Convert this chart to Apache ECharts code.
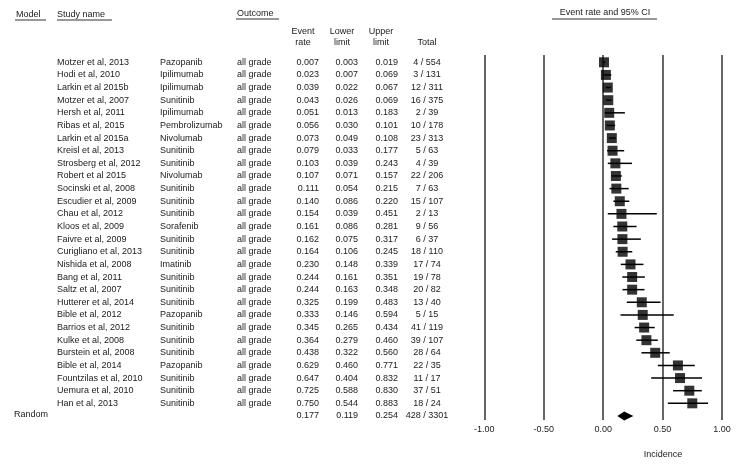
<!DOCTYPE html>
<html><head><meta charset="utf-8">
<script src="https://cdn.jsdelivr.net/npm/echarts@6/dist/echarts.min.js"></script>
<style>html,body{margin:0;padding:0;background:#fff}#c{width:745px;height:472px}</style>
</head><body><div id="c"></div>
<script>
const studies = ['Motzer et al, 2013','Hodi et al, 2010','Larkin et al 2015b','Motzer et al, 2007','Hersh et al, 2011','Ribas et al, 2015','Larkin et al 2015a','Kreisl et al, 2013','Strosberg et al, 2012','Robert et al 2015','Socinski et al, 2008','Escudier et al, 2009','Chau et al, 2012','Kloos et al, 2009','Faivre et al, 2009','Curigliano et al, 2013','Nishida et al, 2008','Bang et al, 2011','Saltz et al, 2007','Hutterer et al, 2014','Bible et al, 2012','Barrios et al, 2012','Kulke et al, 2008','Burstein et al, 2008','Bible et al, 2014','Fountzilas et al, 2010','Uemura et al, 2010','Han et al, 2013'];
const drugs = ['Pazopanib','Ipilimumab','Ipilimumab','Sunitinib','Ipilimumab','Pembrolizumab','Nivolumab','Sunitinib','Sunitinib','Nivolumab','Sunitinib','Sunitinib','Sunitinib','Sorafenib','Sunitinib','Sunitinib','Imatinib','Sunitinib','Sunitinib','Sunitinib','Pazopanib','Sunitinib','Sunitinib','Sunitinib','Pazopanib','Sunitinib','Sunitinib','Sunitinib'];
const outcomeLabel = 'all grade';
const eventRates = [0.007,0.023,0.039,0.043,0.051,0.056,0.073,0.079,0.103,0.107,0.111,0.140,0.154,0.161,0.162,0.164,0.230,0.244,0.244,0.325,0.333,0.345,0.364,0.438,0.629,0.647,0.725,0.750];
const lowerLimits = [0.003,0.007,0.022,0.026,0.013,0.030,0.049,0.033,0.039,0.071,0.054,0.086,0.039,0.086,0.075,0.106,0.148,0.161,0.163,0.199,0.146,0.265,0.279,0.322,0.460,0.404,0.588,0.544];
const upperLimits = [0.019,0.069,0.067,0.069,0.183,0.101,0.108,0.177,0.243,0.157,0.215,0.220,0.451,0.281,0.317,0.245,0.339,0.351,0.348,0.483,0.594,0.434,0.460,0.560,0.771,0.832,0.830,0.883];
const events = [4,3,12,16,2,10,23,5,4,22,7,15,2,9,6,18,17,19,20,13,5,41,39,28,22,11,37,18];
const totals = [554,131,311,375,39,178,313,63,39,206,63,107,13,56,37,110,74,78,82,40,15,119,107,64,35,17,51,24];
const pooledLabel = 'Random';
const pooledRate = 0.177, pooledLower = 0.119, pooledUpper = 0.254, pooledEvents = 428, pooledTotal = 3301;
const xTickValues = [-1, -0.5, 0, 0.5, 1];

const FONT = 'Liberation Sans, Arial, sans-serif';
const TXT = '#1a1a1a';
const n = studies.length;
const pooledRow = n + 1;

const tableRows = studies.map((s, i) => ({
  name: s, drug: drugs[i], outcome: outcomeLabel,
  rate: eventRates[i], lo: lowerLimits[i], hi: upperLimits[i],
  total: events[i] + ' / ' + totals[i], row: i + 1
}));
tableRows.push({name: '', model: pooledLabel, drug: '', outcome: '', rate: pooledRate, lo: pooledLower, hi: pooledUpper,
  total: pooledEvents + ' / ' + pooledTotal, row: pooledRow});

function t(x, y, text, align, extra) {
  return Object.assign({type: 'text', x: x, y: y, style: {text: text, fill: TXT, font: '9px ' + FONT,
    align: align || 'left', verticalAlign: 'middle'}}, extra || {});
}

const chart = echarts.init(document.getElementById('c'), null, {renderer: 'canvas'});
chart.setOption({
  animation: false,
  backgroundColor: '#fff',
  grid: {left: 484.3, right: 23, top: 55, bottom: 52},
  xAxis: {
    type: 'value', min: -1, max: 1, interval: 0.5,
    axisLine: {show: false}, axisTick: {show: false},
    axisLabel: {formatter: v => xTickValues.includes(v) ? v.toFixed(2) : '', fontSize: 9, color: TXT, margin: 5, fontFamily: FONT},
    splitLine: {show: true, lineStyle: {color: '#333', width: 1.5}}
  },
  yAxis: {type: 'value', inverse: true, min: 0.422, max: 29.32, show: false},
  series: [
    {
      type: 'custom', clip: false,
      data: studies.map((s, i) => [lowerLimits[i], upperLimits[i], i + 1]),
      encode: {x: [0, 1], y: 2},
      renderItem: (params, api) => {
        const a = api.coord([api.value(0), api.value(2)]);
        const b = api.coord([api.value(1), api.value(2)]);
        return {type: 'line', shape: {x1: a[0], y1: a[1], x2: b[0], y2: b[1]}, style: {stroke: '#000', lineWidth: 1.5}};
      }
    },
    {
      type: 'scatter', symbol: 'rect', symbolSize: 10,
      itemStyle: {color: '#000'},
      data: studies.map((s, i) => [eventRates[i], i + 1])
    },
    {
      type: 'custom', clip: false,
      data: [[pooledLower, pooledRate, pooledUpper, pooledRow]],
      encode: {x: [0, 1, 2], y: 3},
      renderItem: (params, api) => {
        const l = api.coord([api.value(0), api.value(3)]);
        const m = api.coord([api.value(1), api.value(3)]);
        const r = api.coord([api.value(2), api.value(3)]);
        const h = 4.5;
        return {type: 'polygon', shape: {points: [[l[0], l[1]], [m[0], m[1] - h], [r[0], r[1]], [m[0], m[1] + h]]}, style: {fill: '#000'}};
      }
    },
    {
      type: 'custom', clip: false, silent: true,
      data: tableRows.map(r => [0, r.row]),
      encode: {x: 0, y: 1},
      renderItem: (params, api) => {
        const r = tableRows[params.dataIndex];
        const y = api.coord([0, api.value(1)])[1];
        const kids = [
          t(57, y, r.name), t(160, y, r.drug), t(237, y, r.outcome),
          t(319, y, r.rate.toFixed(3), 'right'), t(358, y, r.lo.toFixed(3), 'right'),
          t(398, y, r.hi.toFixed(3), 'right'), t(427, y, r.total, 'center')
        ];
        if (r.model) kids.push(t(14, y - 1.5, r.model));
        return {type: 'group', children: kids};
      }
    }
  ],
  graphic: [
    t(16, 15, 'Model'), {type: 'line', shape: {x1: 15, y1: 20, x2: 46, y2: 20}, style: {stroke: '#333', lineWidth: 1}},
    t(57, 15, 'Study name'), {type: 'line', shape: {x1: 57, y1: 20, x2: 112, y2: 20}, style: {stroke: '#333', lineWidth: 1}},
    t(237, 14, 'Outcome'), {type: 'line', shape: {x1: 236, y1: 19, x2: 279, y2: 19}, style: {stroke: '#333', lineWidth: 1}},
    t(303, 32, 'Event', 'center'), t(303, 43, 'rate', 'center'),
    t(342, 32, 'Lower', 'center'), t(342, 43, 'limit', 'center'),
    t(381, 32, 'Upper', 'center'), t(381, 43, 'limit', 'center'),
    t(427, 43, 'Total', 'center'),
    t(605, 13, 'Event rate and 95% CI', 'center'), {type: 'line', shape: {x1: 552, y1: 19, x2: 657, y2: 19}, style: {stroke: '#333', lineWidth: 1}},
    t(663, 455, 'Incidence', 'center')
  ]
});
</script></body></html>
